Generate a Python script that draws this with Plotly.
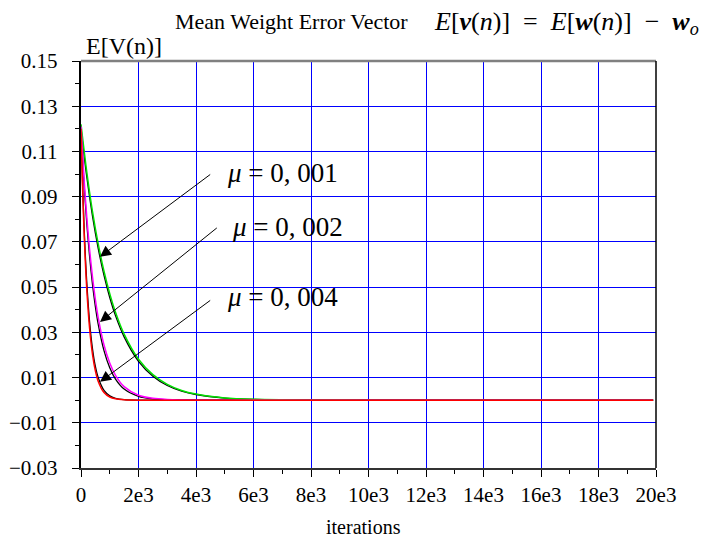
import plotly.graph_objects as go

# ---------------- data ----------------
n_mu1 = [0, 200, 400, 600, 800, 1000, 1200, 1500, 2000, 2500, 3000, 3500, 4000,
         5000, 6000, 8000, 10000, 12000, 14000, 16000, 18000, 19900]
sim_mu1 = [0.122, 0.101, 0.0834, 0.069, 0.057, 0.0471, 0.0389, 0.0292, 0.0181, 0.0113,
           0.0070, 0.0043, 0.0027, 0.0010, 0.0004, 0.0001, 0, 0, 0, 0, 0, 0]
theo_mu1 = [0.120, 0.0988, 0.0814, 0.0670, 0.0552, 0.0454, 0.0374, 0.0280, 0.0172, 0.0106,
            0.0065, 0.0040, 0.0025, 0.0009, 0.0003, 0.0001, 0, 0, 0, 0, 0, 0]

n_mu2 = [0, 100, 200, 300, 400, 500, 600, 800, 1000, 1200, 1500, 2000, 2500, 3000,
         4000, 6000, 10000, 19900]
sim_mu2 = [0.121, 0.0990, 0.0811, 0.0664, 0.0544, 0.0445, 0.0364, 0.0244, 0.0164, 0.0110,
           0.0060, 0.0022, 0.0008, 0.0003, 0.0, 0, 0, 0]
theo_mu2 = [0.120, 0.0970, 0.0784, 0.0634, 0.0512, 0.0414, 0.0335, 0.0219, 0.0143, 0.0093,
            0.0049, 0.0017, 0.0006, 0.0002, 0.0, 0, 0, 0]

n_mu4 = [0, 50, 100, 150, 200, 300, 400, 500, 600, 800, 1000, 1200, 1500, 2000, 4000,
         10000, 19900]
sim_mu4 = [0.120, 0.0961, 0.0769, 0.0616, 0.0493, 0.0316, 0.0203, 0.0130, 0.0083, 0.0034,
           0.0014, 0.0006, 0.0002, 0, 0, 0, 0]
theo_mu4 = [0.120, 0.0974, 0.0791, 0.0642, 0.0522, 0.0344, 0.0227, 0.0149, 0.0099, 0.0043,
            0.0019, 0.0008, 0.0002, 0, 0, 0, 0]

x_tickvals = [0, 2000, 4000, 6000, 8000, 10000, 12000, 14000, 16000, 18000, 20000]
x_ticktext = ["0", "2e3", "4e3", "6e3", "8e3", "10e3", "12e3", "14e3", "16e3", "18e3", "20e3"]
x_minor = [1000, 3000, 5000, 7000, 9000, 11000, 13000, 15000, 17000, 19000]
y_tickvals = [0.15, 0.13, 0.11, 0.09, 0.07, 0.05, 0.03, 0.01, -0.01, -0.03]
y_ticktext = ["0.15", "0.13", "0.11", "0.09", "0.07", "0.05", "0.03", "0.01", "\u22120.01", "\u22120.03"]
y_minor = [0.14, 0.12, 0.10, 0.08, 0.06, 0.04, 0.02, 0.0, -0.02]

mu_labels = ["0,\u00a0001", "0,\u00a0002", "0,\u00a0004"]
arrow_heads = [(661, 0.0634), (661, 0.0346), (661, 0.0081)]
arrow_tails = [(4546, 0.1003), (4776, 0.0767), (4546, 0.0446)]
label_pos = [(5009, 0.1004), (5180, 0.0767), (5009, 0.0456)]

FONT = "Liberation Serif"
NB = "\u00a0"

fig = go.Figure()
line_kw = dict(mode="lines", line_shape="spline", hoverinfo="skip", showlegend=False)
for n, th in [(n_mu1, theo_mu1), (n_mu2, theo_mu2), (n_mu4, theo_mu4)]:
    fig.add_trace(go.Scatter(x=n, y=th, line=dict(color="black", width=1.3, smoothing=0.8), **line_kw))
for n, s, c in [(n_mu1, sim_mu1, "#00e000"), (n_mu2, sim_mu2, "#ff00ff"), (n_mu4, sim_mu4, "#ff0000")]:
    fig.add_trace(go.Scatter(x=n, y=s, line=dict(color=c, width=1.5, smoothing=0.8), **line_kw))

annotations = []
for (hx, hy), (tx, ty) in zip(arrow_heads, arrow_tails):
    annotations.append(dict(x=hx, y=hy, ax=tx, ay=ty, xref="x", yref="y", axref="x", ayref="y",
                            text="", showarrow=True, arrowhead=2, arrowsize=2.2,
                            arrowwidth=1, arrowcolor="black"))
for (lx, ly), lab in zip(label_pos, mu_labels):
    annotations.append(dict(x=lx, y=ly, xref="x", yref="y", xanchor="left", yanchor="middle",
                            text="<i>\u03bc</i>" + NB + "=" + NB + lab, showarrow=False,
                            font=dict(family=FONT, size=27, color="black")))

math = ("<i>E</i>[<b><i>v</i></b>(<i>n</i>)]" + NB + NB + "=" + NB + NB +
        "<i>E</i>[<b><i>w</i></b>(<i>n</i>)]" + NB + NB + "\u2212" + NB + NB +
        "<b><i>w</i></b><sub><i>o</i></sub>")
annotations += [
    dict(x=0.16, y=1.096, xref="paper", yref="paper", xanchor="left", yanchor="middle",
         text="Mean Weight Error Vector", showarrow=False,
         font=dict(family=FONT, size=22, color="black")),
    dict(x=0.6104, y=1.094, xref="paper", yref="paper", xanchor="left", yanchor="middle",
         text=math, showarrow=False, font=dict(family=FONT, size=26, color="black")),
    dict(x=0.005, y=1.036, xref="paper", yref="paper", xanchor="left", yanchor="middle",
         text="E[V(n)]", showarrow=False, font=dict(family=FONT, size=24, color="black")),
    dict(x=0.491, y=-0.145, xref="paper", yref="paper", xanchor="center", yanchor="middle",
         text="iterations", showarrow=False, font=dict(family=FONT, size=20, color="black")),
]

# page body has an 8px offset, margins compensate so the plot area sits at 81..656 x 61..468
fig.update_layout(
    width=722, height=537,
    margin=dict(l=73, r=74, t=53, b=77, pad=0),
    paper_bgcolor="white", plot_bgcolor="white",
    font=dict(family=FONT, size=21, color="black"),
    annotations=annotations,
    shapes=[
        dict(type="line", xref="paper", yref="paper", x0=0, x1=1, y0=1, y1=1,
             line=dict(color="#808080", width=2.5), layer="above"),
        dict(type="line", xref="paper", yref="paper", x0=1, x1=1, y0=0, y1=1,
             line=dict(color="black", width=1.5), layer="above"),
    ],
)
fig.update_xaxes(range=[0, 20000], tickmode="array", tickvals=x_tickvals, ticktext=x_ticktext,
                 automargin=False,
                 showgrid=True, gridcolor="#0000ff", gridwidth=1, zeroline=False,
                 showline=True, linecolor="#333333", linewidth=1.5,
                 ticks="outside", ticklen=7, tickcolor="black", tickwidth=1,
                 minor=dict(tickmode="array", tickvals=x_minor, ticks="outside", ticklen=4,
                            tickcolor="black", showgrid=False),
                 tickfont=dict(family=FONT, size=21))
fig.update_yaxes(range=[-0.03, 0.15], tickmode="array", tickvals=y_tickvals,
                 ticktext=[t + NB + NB for t in y_ticktext],
                 automargin=False,
                 showgrid=True, gridcolor="#0000ff", gridwidth=1, zeroline=False,
                 showline=True, linecolor="black", linewidth=1.5,
                 ticks="outside", ticklen=7, tickcolor="black", tickwidth=1,
                 minor=dict(tickmode="array", tickvals=y_minor, ticks="outside", ticklen=4,
                            tickcolor="black", showgrid=False),
                 tickfont=dict(family=FONT, size=21))

fig.write_html("out.html")
